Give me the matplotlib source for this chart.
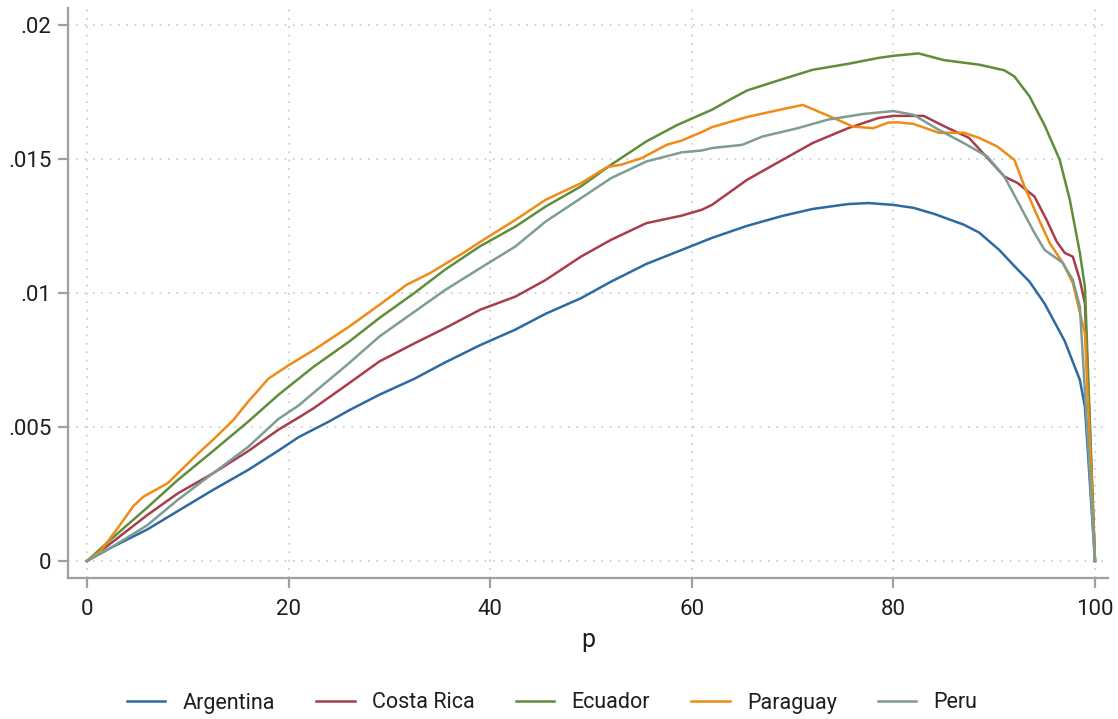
import matplotlib
matplotlib.use("Agg")
import matplotlib.pyplot as plt
from matplotlib.lines import Line2D

plt.rcParams['font.family'] = ['Roboto', 'DejaVu Sans']

# ---------------- data ----------------
countries = ["Argentina", "Costa Rica", "Ecuador", "Paraguay", "Peru"]
colors = ["#2d6aa2", "#a83d4e", "#5f8e3a", "#ef8b16", "#7d9d93"]

p_arg = [0, 2.5, 6, 9, 12.5, 16, 19, 21, 24, 26, 29, 32.5, 35.5, 39, 42.5, 45.5, 49, 52,
         55.5, 59, 62, 65.5, 69, 72, 75.5, 77.5, 80, 82, 84, 87, 88.5, 90.5, 92, 93.5, 95,
         97, 98.5, 99, 100]
y_arg = [0, .00052, .00118, .00186, .00265, .0034, .00412, .00462, .0052, .00562, .0062,
         .0068, .0074, .00805, .00863, .00922, .0098, .01042, .01108, .0116, .01205, .0125,
         .01287, .01313, .01331, .01335, .01328, .01317, .01295, .01254, .01225, .0116, .011,
         .01042, .0096, .0082, .00675, .00575, 0]

p_cri = [0, 2.5, 6, 9, 12.5, 16, 19, 21, 22.5, 26, 29, 32.5, 35.5, 39, 42.5, 45.5, 49, 52,
         55.5, 59, 61, 62, 65.5, 69, 72, 75.5, 78.5, 80, 83, 85, 87.5, 89.5, 91, 92.3, 94,
         95.2, 96.2, 97, 97.8, 98.5, 99, 100]
y_cri = [0, .0007, .00172, .00252, .00327, .0041, .0049, .00535, .0057, .00663, .00744,
         .00812, .00868, .00937, .00986, .01048, .01135, .01198, .0126, .01288, .0131, .01328,
         .01422, .01496, .01559, .01614, .01652, .0166, .0166, .01622, .01578, .01496, .01434,
         .0141, .01359, .01272, .01191, .01149, .01135, .01048, .0096, 0]

p_ecu = [0, 2.5, 6, 9, 12.5, 16, 19, 22.5, 26, 29, 32.5, 35.5, 39, 42.5, 45.5, 49, 52, 55.5,
         58.5, 60, 62, 64, 65.5, 69, 72, 75.5, 78.5, 80, 82.5, 85, 88.5, 91, 92, 93.5, 95,
         96.5, 97.5, 98.5, 99, 100]
y_ecu = [0, .00085, .002, .00302, .0041, .0052, .0062, .00725, .00818, .00906, .01, .01086,
         .01174, .01247, .01322, .01397, .01478, .01565, .01625, .0165, .01683, .01725, .01755,
         .01797, .01832, .01854, .01876, .01884, .01893, .01868, .01851, .0183, .01807, .01733,
         .01625, .01496, .01347, .01149, .01022, 0]

p_pry = [0, 1.3, 3, 4.6, 5.6, 8, 11, 12.5, 14.5, 16, 18, 20, 22.5, 26, 29, 31.7, 34, 37.3,
         39, 42.5, 45.5, 49, 51.6, 53, 55, 57.5, 59, 61, 62, 65.5, 69, 71, 73.7, 76, 78, 79.5,
         80.5, 82, 84.5, 87, 88.5, 90.3, 92, 93, 94.3, 95.5, 96.8, 97.8, 98.5, 99, 100]
y_pry = [0, .00035, .0012, .00205, .0024, .0029, .004, .00452, .00525, .00595, .0068, .0073,
         .00787, .00874, .00955, .0103, .01073, .01148, .0119, .01272, .01347, .01409, .01469,
         .01478, .01502, .01552, .01568, .016, .01618, .01656, .01685, .01701, .01658, .0162,
         .01614, .01635, .01636, .0163, .01597, .01597, .01578, .01546, .01496, .01397, .01285,
         .01186, .01112, .01037, .00925, .0085, 0]

p_per = [0, 2.5, 6, 9, 12.5, 16, 19, 21, 22.5, 26, 29, 32.5, 35.5, 39, 42.5, 45.5, 49, 52,
         55.5, 59, 61, 62, 65, 67, 70.5, 73.5, 77, 80, 82, 84.5, 87, 89.3, 91, 92.6, 94, 95,
         96.8, 97.8, 98.5, 100]
y_per = [0, .00053, .00134, .00228, .00327, .00426, .0053, .0058, .00628, .00738, .00837,
         .0093, .0101, .01092, .01173, .01266, .01353, .01428, .0149, .01524, .01531, .0154,
         .01552, .01583, .01614, .01646, .01667, .01678, .01664, .01608, .01558, .01509, .01434,
         .01322, .01223, .0116, .01112, .01048, .00948, 0]

xticks = [0, 20, 40, 60, 80, 100]
xticklabels = ["0", "20", "40", "60", "80", "100"]
yticks = [0, 0.005, 0.01, 0.015, 0.02]
yticklabels = ["0", ".005", ".01", ".015", ".02"]
xlabel = "p"

series = [(p_arg, y_arg), (p_cri, y_cri), (p_ecu, y_ecu), (p_pry, y_pry), (p_per, y_per)]

# ---------------- figure ----------------
fig = plt.figure(figsize=(11.18, 7.19), dpi=100)
ax = fig.add_axes([68 / 1118, 1 - 578 / 719, (1108 - 68) / 1118, (578 - 8) / 719])

text_col = "#1e1e1e"
axis_col = "#a0a0a0"

for (px, py), c, name in zip(series, colors, countries):
    ax.plot(px, py, color=c, lw=1.8, label=name, solid_joinstyle="round")

ax.set_xlim(-1.885, 101.29)
ax.set_ylim(-0.000634, 0.020623)
ax.set_xticks(xticks)
ax.set_xticklabels(xticklabels)
ax.set_yticks(yticks)
ax.set_yticklabels(yticklabels)

ax.grid(True, linestyle=(0, (1, 4)), color="#c8c8c8", lw=1.2)
ax.set_axisbelow(True)

for s in ["top", "right"]:
    ax.spines[s].set_visible(False)
for s in ["left", "bottom"]:
    ax.spines[s].set_color(axis_col)
    ax.spines[s].set_linewidth(1.6)

ax.tick_params(axis="both", colors=axis_col, length=7, width=1.6, labelsize=16,
               labelcolor=text_col, pad=5)
ax.tick_params(axis="x", pad=8)

ax.set_xlabel(xlabel, fontsize=18, color=text_col, labelpad=6)

handles = [Line2D([0], [0], color=c, lw=1.8) for c in colors]
fig.legend(handles, countries, loc="center", bbox_to_anchor=(552 / 1118, 1 - 703 / 719),
           ncol=5, frameon=False, fontsize=15.5, handlelength=1.8, handletextpad=0.8,
           columnspacing=1.9, labelcolor=text_col)

fig.savefig("out.png", dpi=100, facecolor="white")
